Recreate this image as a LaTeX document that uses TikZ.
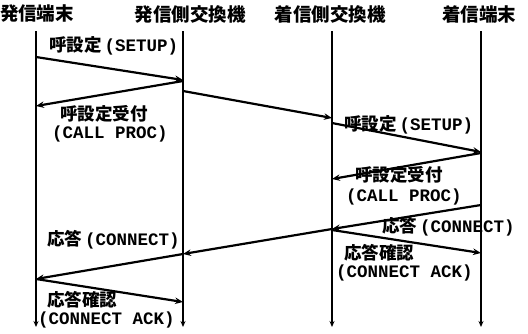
\documentclass[tikz,border=0pt]{standalone}
\usepackage{fontspec}
\newfontfamily\jp{Noto Sans CJK JP}
\newfontfamily\mono{Liberation Mono}
\usetikzlibrary{arrows.meta}
\begin{document}
\begin{tikzpicture}[x=1pt,y=-1pt,
  head/.style={font=\jp\bfseries\fontsize{18.5}{20}\selectfont, inner sep=0pt},
  lbl/.style={font=\fontsize{17.5}{19}\selectfont, inner sep=0pt, anchor=west},
  life/.style={line width=1.5pt, -{Stealth[length=6pt,width=5pt]}},
  msg/.style={line width=2.2pt, -{Stealth[length=8pt,width=6.5pt]}}]
\useasboundingbox (0,0) rectangle (528,333);
\newcommand{\J}[1]{{\jp\bfseries #1}}
\newcommand{\M}[1]{{\mono\bfseries\fontsize{17.5}{19}\selectfont #1}}
% headers
\node[head] (h1) at (37,14) {発信端末};
\node[head] (h2) at (190,14) {発信側交換機};
\node[head] (h3) at (330,14) {着信側交換機};
\node[head] (h4) at (479,14) {着信端末};
% lifelines
\coordinate (t1) at (36,31);  \coordinate (b1) at (36,327);
\coordinate (t2) at (183,31); \coordinate (b2) at (183,327);
\coordinate (t3) at (332,31); \coordinate (b3) at (332,327);
\coordinate (t4) at (481,31); \coordinate (b4) at (481,327);
\foreach \i in {1,2,3,4} \draw[life] (t\i) -- (b\i);
% message end points
\coordinate (m1s) at (36,57);   \coordinate (m1e) at (183,80);
\coordinate (m2s) at (183,81);  \coordinate (m2e) at (36,106);
\coordinate (m3s) at (183,91);  \coordinate (m3e) at (332,118);
\coordinate (m4s) at (332,123); \coordinate (m4e) at (481,152);
\coordinate (m5s) at (481,153); \coordinate (m5e) at (332,179);
\coordinate (m6s) at (481,205); \coordinate (m6e) at (332,229);
\coordinate (m7a) at (332,229); \coordinate (m7b) at (183,254);
\coordinate (m7c) at (36,279);
\coordinate (m8s) at (332,230); \coordinate (m8e) at (481,253);
\coordinate (m9s) at (36,279);  \coordinate (m9e) at (183,302);
\draw[msg] (m1s) -- (m1e);
\draw[msg] (m2s) -- (m2e);
\draw[msg] (m3s) -- (m3e);
\draw[msg] (m4s) -- (m4e);
\draw[msg] (m5s) -- (m5e);
\draw[msg] (m6s) -- (m6e);
\draw[msg] (m7a) -- (m7b);
\draw[msg] (m7b) -- (m7c);
\draw[msg] (m8s) -- (m8e);
\draw[msg] (m9s) -- (m9e);
% labels
\node[lbl] (l1) at (49,46) {\J{呼設定}\,\M{(SETUP)}};
\node[lbl] (l2a) at (60,114) {\J{呼設定受付}};
\node[lbl] (l2b) at (52,134) {\M{(CALL PROC)}};
\node[lbl] (l4) at (344,125) {\J{呼設定}\,\M{(SETUP)}};
\node[lbl] (l5a) at (355,175) {\J{呼設定受付}};
\node[lbl] (l5b) at (346,197) {\M{(CALL PROC)}};
\node[lbl] (l6) at (382,227) {\J{応答}\,\M{(CONNECT)}};
\node[lbl] (l7) at (47,240) {\J{応答}\,\M{(CONNECT)}};
\node[lbl] (l8a) at (344,253) {\J{応答確認}};
\node[lbl] (l8b) at (336,273) {\M{(CONNECT ACK)}};
\node[lbl] (l9a) at (47,300) {\J{応答確認}};
\node[lbl] (l9b) at (38,320) {\M{(CONNECT ACK)}};
\end{tikzpicture}
\end{document}
